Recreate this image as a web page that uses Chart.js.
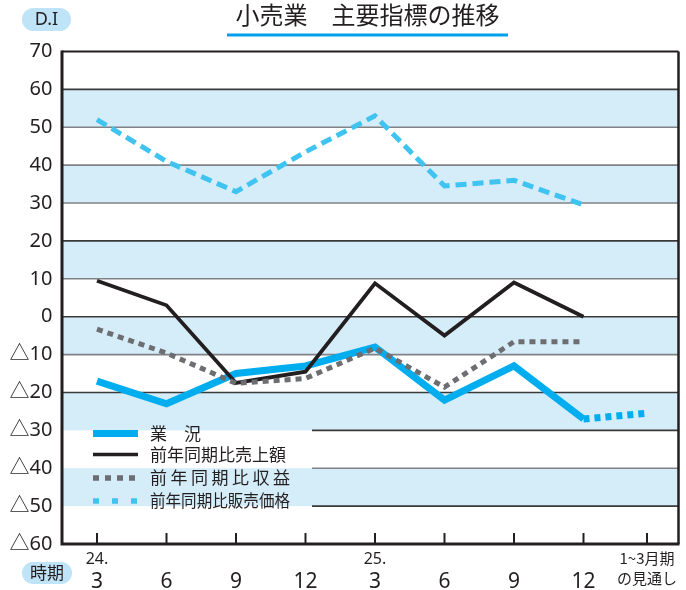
<!DOCTYPE html>
<html>
<head>
<meta charset="utf-8">
<script src="https://cdn.jsdelivr.net/npm/chart.js@4"></script>
<style>
html,body{margin:0;padding:0;background:#fff;}
#wrap{width:686px;height:590px;position:relative;}
</style>
</head>
<body>
<div id="wrap"><canvas id="c"></canvas></div>
<script>
// ---- data ----
const titleText = '小売業　主要指標の推移';
const xLabels = ['3','6','9','12','3','6','9','12'];
const yearLabels = ['24.','','','','25.','','',''];
const forecastLabel = ['1~3月期','の見通し'];
const seriesNames = ['業　況','前年同期比売上額','前年同期比収益','前年同期比販売価格'];
const gyokyo = [-17,-23,-15,-13,-8,-22,-13,-27];
const gyokyoForecast = [-27,-25.5];
const uriage = [9.5,3,-17.5,-14.5,8.8,-5,9,0];
const shueki = [-3.3,-9.6,-17.6,-16.3,-8.3,-18.6,-6.6,-6.6];
const kakaku = [52,41,33,43.5,53,34.5,36,29.5];
const yMin = -60, yMax = 70, yStep = 10;
const bands = [[50,60],[30,40],[10,20],[-10,0],[-30,-20],[-50,-40]];

// ---- layout / style ----
const FORECAST_X = 7.914;
const INK = '#231f20';
const C_GYOKYO = '#00aeef', C_URIAGE = '#231f20', C_SHUEKI = '#6d6e71', C_KAKAKU = '#3fc3f0';
const FONT = "'Noto Sans','Noto Sans CJK JP',sans-serif";
const CJK = "'Noto Sans CJK JP','Noto Sans',sans-serif";

const pts = a => a.map((v,i)=>({x:i,y:v}));
const fcPts = [{x:7,y:gyokyoForecast[0]},{x:FORECAST_X,y:gyokyoForecast[1]}];

function roundRect(ctx,x,y,w,h,r){
  ctx.beginPath();
  ctx.moveTo(x+r,y);ctx.lineTo(x+w-r,y);ctx.arc(x+w-r,y+r,r,-Math.PI/2,0);
  ctx.lineTo(x+w,y+h-r);ctx.arc(x+w-r,y+h-r,r,0,Math.PI/2);
  ctx.lineTo(x+r,y+h);ctx.arc(x+r,y+h-r,r,Math.PI/2,Math.PI);
  ctx.lineTo(x,y+r);ctx.arc(x+r,y+r,r,Math.PI,Math.PI*1.5);ctx.closePath();
}

const bgPlugin = {
  id:'bg',
  beforeDatasetsDraw(chart){
    const {ctx, chartArea:a, scales:{y}} = chart;
    ctx.save();
    ctx.fillStyle = '#d5ecf9';
    bands.forEach(([lo,hi])=>{
      const t = y.getPixelForValue(hi), b = y.getPixelForValue(lo);
      ctx.fillRect(a.left, t, a.right-a.left, b-t);
    });
    const dark = [60,20,0,-20,-30,-50];
    for(let v=yMax-yStep; v>yMin; v-=yStep){
      const py = y.getPixelForValue(v);
      const x0 = v <= -30 ? 312 : a.left;
      ctx.strokeStyle = dark.includes(v) ? '#3a3a3a' : '#808285';
      ctx.lineWidth = 1.6;
      ctx.beginPath(); ctx.moveTo(x0,py); ctx.lineTo(a.right,py); ctx.stroke();
    }
    ctx.restore();
  },
  afterDraw(chart){
    const {ctx, chartArea:a, scales:{x,y}} = chart;
    ctx.save();
    // frame
    ctx.strokeStyle = INK;
    ctx.lineWidth = 2; ctx.beginPath(); ctx.moveTo(a.left,a.top); ctx.lineTo(a.right,a.top); ctx.stroke();
    ctx.lineWidth = 2.5; ctx.beginPath(); ctx.moveTo(a.right,a.top); ctx.lineTo(a.right,a.bottom); ctx.stroke();
    ctx.lineWidth = 3; ctx.beginPath(); ctx.moveTo(a.left,a.top-1); ctx.lineTo(a.left,a.bottom); ctx.lineTo(a.right+1,a.bottom); ctx.stroke();
    // x ticks
    ctx.lineWidth = 2;
    const tickXs = xLabels.map((_,i)=>x.getPixelForValue(i)).concat([x.getPixelForValue(FORECAST_X)]);
    tickXs.forEach(px=>{ctx.beginPath();ctx.moveTo(px,a.bottom);ctx.lineTo(px,a.bottom-11);ctx.stroke();});
    // x labels
    ctx.fillStyle = INK; ctx.textAlign='center'; ctx.textBaseline='middle';
    xLabels.forEach((l,i)=>{
      const px = x.getPixelForValue(i);
      ctx.font = "21px "+FONT; ctx.fillText(l, px, 582);
      if(yearLabels[i]){ ctx.font = "16px "+FONT; ctx.fillText(yearLabels[i], px, 559); }
    });
    const fx = x.getPixelForValue(FORECAST_X);
    ctx.font = "15px "+CJK;
    ctx.fillText(forecastLabel[0], fx, 558);
    ctx.fillText(forecastLabel[1], fx, 578);
    // title
    ctx.font = "24px "+CJK; ctx.fillText(titleText, 367.5, 15);
    ctx.fillStyle = '#00a0e9'; ctx.fillRect(227, 33.5, 281, 3);
    // badges
    ctx.fillStyle = '#bfe3f7';
    roundRect(ctx,22,8,49,23,11.5); ctx.fill();
    roundRect(ctx,22,562,50,22,11); ctx.fill();
    ctx.fillStyle = INK;
    ctx.font = "18px "+FONT; ctx.fillText('D.I', 46.5, 20);
    ctx.font = "17px "+CJK; ctx.fillText('時期', 47, 573);
    // legend
    const rows = [
      {y:433.5, color:C_GYOKYO, w:7, dash:[]},
      {y:454.5, color:C_URIAGE, w:3.5, dash:[]},
      {y:478, color:C_SHUEKI, w:5.5, dash:[6,6]},
      {y:501, color:C_KAKAKU, w:5.5, dash:[6,13]}
    ];
    rows.forEach((r,i)=>{
      ctx.strokeStyle = r.color; ctx.lineWidth = r.w; ctx.setLineDash(r.dash); ctx.lineCap='butt';
      ctx.beginPath(); ctx.moveTo(93,r.y); ctx.lineTo(138,r.y); ctx.stroke();
      ctx.setLineDash([]);
      ctx.fillStyle = INK; ctx.font = "17px "+CJK; ctx.textAlign='left'; ctx.textBaseline='middle';
      const t = seriesNames[i];
      if(i===2){
        const chars = [...t]; const step = (140-17)/(chars.length-1);
        chars.forEach((ch,k)=>ctx.fillText(ch, 150+k*step, r.y));
      } else if(i===3){
        ctx.fillText(t, 150, r.y, 140);
      } else {
        ctx.fillText(t, 150, r.y);
      }
    });
    ctx.restore();
  }
};

Chart.defaults.font.family = FONT;
new Chart(document.getElementById('c'), {
  type:'line',
  data:{
    datasets:[
      {label:seriesNames[3], data:pts(kakaku), borderColor:C_KAKAKU, borderWidth:5, borderDash:[11,6], order:4},
      {label:seriesNames[0], data:pts(gyokyo), borderColor:C_GYOKYO, borderWidth:7, order:3},
      {label:seriesNames[0]+'見通し', data:fcPts, borderColor:C_GYOKYO, borderWidth:7, borderDash:[6,5], order:3},
      {label:seriesNames[1], data:pts(uriage), borderColor:C_URIAGE, borderWidth:3.8, order:2},
      {label:seriesNames[2], data:pts(shueki), borderColor:C_SHUEKI, borderWidth:5, borderDash:[6,5], order:1}
    ]
  },
  options:{
    responsive:true, maintainAspectRatio:false, animation:false,
    layout:{padding:{top:51.5, right:7.5, left:0, bottom:0}},
    elements:{point:{radius:0}, line:{tension:0, borderJoinStyle:'miter', borderCapStyle:'butt', fill:false}},
    plugins:{legend:{display:false}, tooltip:{enabled:false}},
    scales:{
      x:{type:'linear', min:-0.5036, max:8.367, bounds:'data',
         grid:{display:false}, border:{display:false}, ticks:{display:false},
         afterFit(s){ s.height = 46; }},
      y:{min:yMin, max:yMax, bounds:'data',
         ticks:{stepSize:yStep, padding:9.5, color:INK, font:{size:20, family:FONT},
                callback:v=> v<0 ? '△'+(-v) : String(v)},
         grid:{display:false, drawTicks:false}, border:{display:false},
         afterFit(s){ s.width = 62; }}
    }
  },
  plugins:[bgPlugin]
});
</script>
</body>
</html>
